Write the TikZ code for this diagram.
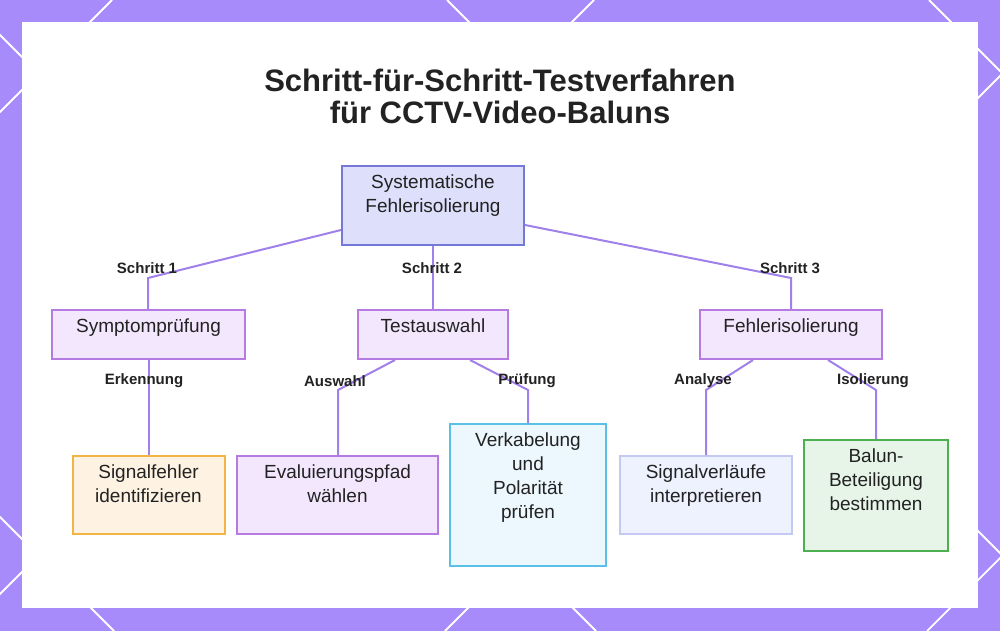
\documentclass[tikz,border=0pt]{standalone}
\usepackage{fontspec}
\setmainfont{Liberation Sans}
\usetikzlibrary{positioning}
\definecolor{rim}{HTML}{A78BFA}
\definecolor{wire}{HTML}{A080EA}
\definecolor{ink}{HTML}{222222}
\definecolor{rootfill}{HTML}{DEDFFB}
\definecolor{rootline}{HTML}{7478D6}
\definecolor{midfill}{HTML}{F3E7FD}
\definecolor{midline}{HTML}{B67BE2}
\definecolor{orfill}{HTML}{FEF3E3}
\definecolor{orline}{HTML}{F2B544}
\definecolor{cyfill}{HTML}{EDF8FE}
\definecolor{cyline}{HTML}{5BC0E6}
\definecolor{blfill}{HTML}{EEF1FE}
\definecolor{blline}{HTML}{C3C9F2}
\definecolor{grfill}{HTML}{E7F5E9}
\definecolor{grline}{HTML}{4CAF50}
\tikzstyle{box} = [rectangle, draw, line width=2pt, inner sep=0pt]
\tikzstyle{midbox} = [box, fill=midfill, draw=midline, minimum height=49pt]
\tikzstyle{boxtext} = [align=center, inner sep=0pt, text=ink,
font=\fontsize{19}{24}\selectfont]
\tikzstyle{edgelabel} = [inner sep=0pt, text=ink, font=\bfseries\fontsize{15}{15}\selectfont]
\tikzstyle{link} = [draw=wire, line width=2pt]
\tikzstyle{lattice} = [draw=white, line width=1.8pt]
\newcommand{\boxlabel}[2]{ %
  % Put the text #2 near the top of box #1.
  \node[boxtext, below=10pt of #1.north] (#1-t) {#2};
}

\begin{document}
\begin{tikzpicture}[x=1pt, y=-1pt]
  \useasboundingbox (0,0) rectangle (1000,631);
  \begin{scope}
    \clip (0,0) rectangle (1000,631);
    \fill[rim] (0,0) rectangle (1000,631);
    \foreach \c in {112,594,1076,1558} \draw[lattice] (\c,0) -- (\c-631,631);
    \foreach \c in {-517,-35,447,929} \draw[lattice] (\c,0) -- (\c+631,631);
  \end{scope}
  \fill[white] (22,22) rectangle (978,608);

  \node[align=center, text=ink, font=\bfseries\fontsize{31}{32}\selectfont] (head) at (500,96)
    {Schritt-für-Schritt-Testverfahren\\für CCTV-Video-Baluns};

  \node[box, fill=rootfill, draw=rootline, minimum width=182pt, minimum height=79pt] (root) at (433,205.5) {};
  \node[midbox, minimum width=193pt, below=63pt of root, xshift=-284.5pt] (sym) {};
  \node[midbox, minimum width=150pt, below=63pt of root] (test) {};
  \node[midbox, minimum width=182pt, below=63pt of root, xshift=358pt] (fehl) {};

  \node[box, fill=orfill, draw=orline, minimum width=152pt, minimum height=78pt, below=95pt of sym] (sig) {};
  \node[box, fill=midfill, draw=midline, minimum width=201pt, minimum height=78pt, below=95pt of test, xshift=-95.5pt] (eval) {};
  \node[box, fill=cyfill, draw=cyline, minimum width=156pt, minimum height=142pt, below=63pt of test, xshift=95pt] (verk) {};
  \node[box, fill=blfill, draw=blline, minimum width=172pt, minimum height=78pt, below=95pt of fehl, xshift=-85pt] (sigv) {};
  \node[box, fill=grfill, draw=grline, minimum width=144pt, minimum height=111pt, below=79pt of fehl, xshift=85pt] (balun) {};

  \boxlabel{root}{Systematische\\Fehlerisolierung}
  \boxlabel{sym}{Symptomprüfung}
  \boxlabel{test}{Testauswahl}
  \boxlabel{fehl}{Fehlerisolierung}
  \boxlabel{sig}{Signalfehler\\identifizieren}
  \boxlabel{eval}{Evaluierungspfad\\wählen}
  \boxlabel{verk}{Verkabelung\\und\\Polarität\\prüfen}
  \boxlabel{sigv}{Signalverläufe\\interpretieren}
  \boxlabel{balun}{Balun-\\Beteiligung\\bestimmen}

  % step connectors
  \coordinate (s1) at (148,278);
  \coordinate (s3) at (791,278);
  \draw[link] ([yshift=16pt]root.south west) -- (s1) -- (s1 |- sym.north);
  \draw[link] (root.south) -- (test.north);
  \draw[link] ([yshift=21pt]root.south east) -- (s3) -- (s3 |- fehl.north);
  \node[edgelabel] (l1) at (147,268) {Schritt 1};
  \node[edgelabel] (l2) at (432,268) {Schritt 2};
  \node[edgelabel] (l3) at (790,268) {Schritt 3};

  % lower connectors
  \coordinate (a2) at (338,390);
  \coordinate (p2) at (528,390);
  \coordinate (a3) at (706,390);
  \coordinate (i3) at (876,390);
  \draw[link] (sym.south) -- (sig.north);
  \draw[link] ([xshift=-38pt]test.south) -- (a2) -- (a2 |- eval.north);
  \draw[link] ([xshift=37pt]test.south) -- (p2) -- (p2 |- verk.north);
  \draw[link] ([xshift=-38pt]fehl.south) -- (a3) -- (a3 |- sigv.north);
  \draw[link] ([xshift=37pt]fehl.south) -- (i3) -- (i3 |- balun.north);
  \node[edgelabel] (e1) at (144,381) {Erkennung};
  \node[edgelabel] (e2) at (335,381) {Auswahl};
  \node[edgelabel] (e3) at (527,381) {Prüfung};
  \node[edgelabel] (e4) at (703,381) {Analyse};
  \node[edgelabel] (e5) at (873,381) {Isolierung};
\end{tikzpicture}
\end{document}
